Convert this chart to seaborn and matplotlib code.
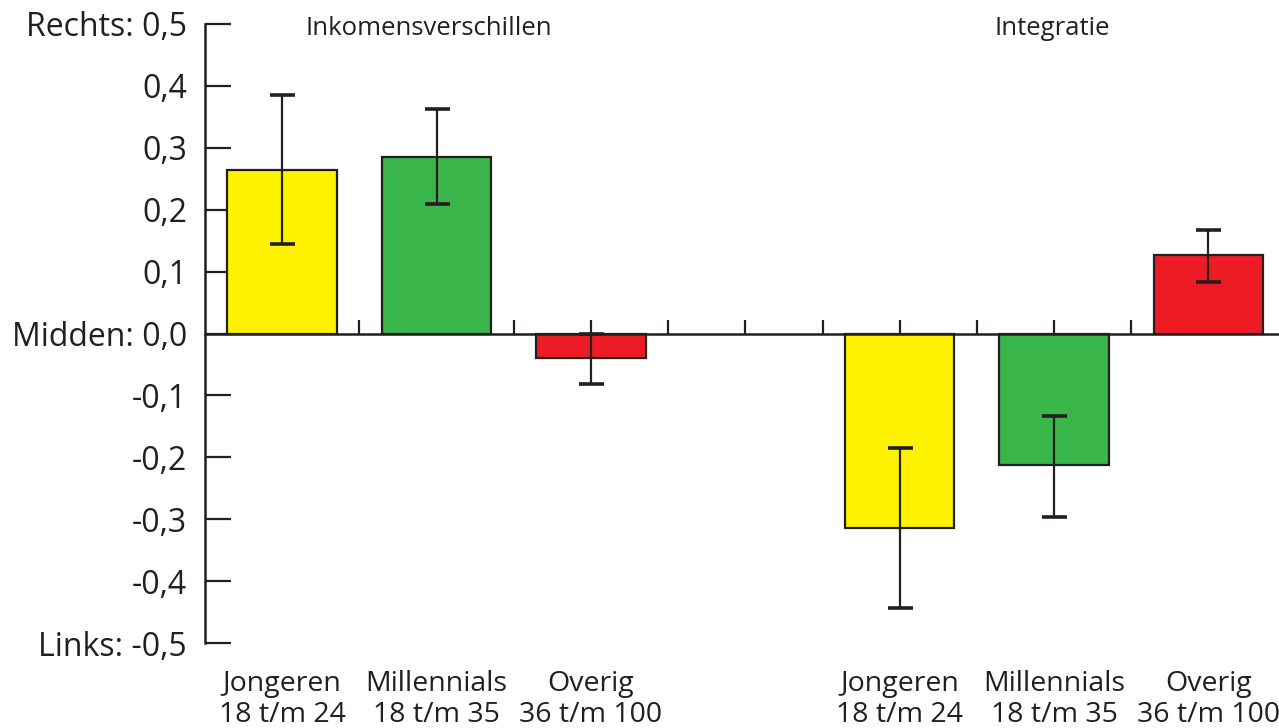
import numpy as np
import pandas as pd
import matplotlib
matplotlib.use("Agg")
import matplotlib.pyplot as plt
import matplotlib.transforms as mtransforms
import seaborn as sns

# data
groups = ["Inkomensverschillen", "Inkomensverschillen", "Inkomensverschillen",
          "Integratie", "Integratie", "Integratie"]
cohorts = ["Jongeren\n18 t/m 24", "Millennials\n18 t/m 35", "Overig\n36 t/m 100",
           "Jongeren\n18 t/m 24", "Millennials\n18 t/m 35", "Overig\n36 t/m 100"]
means = [0.264, 0.285, -0.040, -0.314, -0.212, 0.127]
err_low = [0.145, 0.209, -0.082, -0.443, -0.296, 0.083]
err_high = [0.386, 0.363, 0.000, -0.185, -0.133, 0.167]
cohort_colors = {"Jongeren": "#FFF200", "Millennials": "#39B54A", "Overig": "#ED1C24"}

ytick_vals = [0.5, 0.4, 0.3, 0.2, 0.1, 0.0, -0.1, -0.2, -0.3, -0.4, -0.5]
ytick_labels = ["Rechts: 0,5", "0,4", "0,3", "0,2", "0,1", "Midden: 0,0",
                "-0,1", "-0,2", "-0,3", "-0,4", "Links: -0,5"]

ink = "#231f20"

df = pd.DataFrame({"group": groups, "cohort": cohorts, "mean": means,
                   "lo": err_low, "hi": err_high})
df["key"] = df["group"] + "|" + df["cohort"]
df["short"] = df["cohort"].str.split("\n").str[0]

# one empty slot between the two blocks
order = list(df["key"][:3]) + [" "] + list(df["key"][3:])
palette = {k: cohort_colors[s] for k, s in zip(df["key"], df["short"])}

sns.set_style("white")
plt.rcParams["font.family"] = ["Open Sans", "DejaVu Sans"]

fig = plt.figure(figsize=(12.79, 7.28), dpi=100)
ax = fig.add_axes([205 / 1279, 1 - 643 / 728, 1 - 205 / 1279, 619 / 728])

sns.barplot(data=df, x="key", y="mean", hue="key", order=order, hue_order=order[:3] + order[4:],
            palette=palette, saturation=1, width=0.71, edgecolor=ink, linewidth=1.6,
            errorbar=None, legend=False, ax=ax, zorder=3)

xpos = np.array([order.index(k) for k in df["key"]])
yerr = np.vstack([df["mean"] - df["lo"], df["hi"] - df["mean"]])
ax.errorbar(xpos, df["mean"], yerr=yerr, fmt="none", ecolor=ink,
            elinewidth=1.6, capsize=9, capthick=2.6, zorder=4)

ax.set_ylim(-0.5, 0.5)
ax.set_xlim(-0.5, 6.457)
ax.set_yticks(ytick_vals)
ax.set_yticklabels(ytick_labels, fontsize=23, color=ink)
ax.set_xticks(np.arange(0, 6.01, 0.5))
ax.set_xticklabels([])
ax.set_xlabel("")
ax.set_ylabel("")

# labels sit a little below their ticks in the original
shift = mtransforms.ScaledTranslation(0, -4 / 100, fig.dpi_scale_trans)
for lab in ax.get_yticklabels():
    lab.set_transform(lab.get_transform() + shift)

ax.spines["top"].set_visible(False)
ax.spines["right"].set_visible(False)
ax.spines["bottom"].set_position(("data", 0))
for s in ("left", "bottom"):
    ax.spines[s].set_color(ink)
    ax.spines[s].set_linewidth(1.8)
    ax.spines[s].set_zorder(5)
ax.tick_params(axis="y", left=True, direction="in", length=19, width=1.6,
               color=ink, pad=13)
ax.tick_params(axis="x", bottom=True, direction="in", length=10, width=1.6,
               color=ink)

trans = mtransforms.blended_transform_factory(ax.transData, ax.transAxes)
for x, lab in zip(xpos, df["cohort"]):
    ax.text(x, -0.043, lab, transform=trans, ha="center", va="top",
            fontsize=20.5, color=ink, linespacing=1.17, clip_on=False)

ax.text(0.95, 0.492, "Inkomensverschillen", ha="center", va="center",
        fontsize=18.5, color=ink)
ax.text(4.99, 0.492, "Integratie", ha="center", va="center",
        fontsize=18.5, color=ink)

fig.savefig("out.png", dpi=100)
